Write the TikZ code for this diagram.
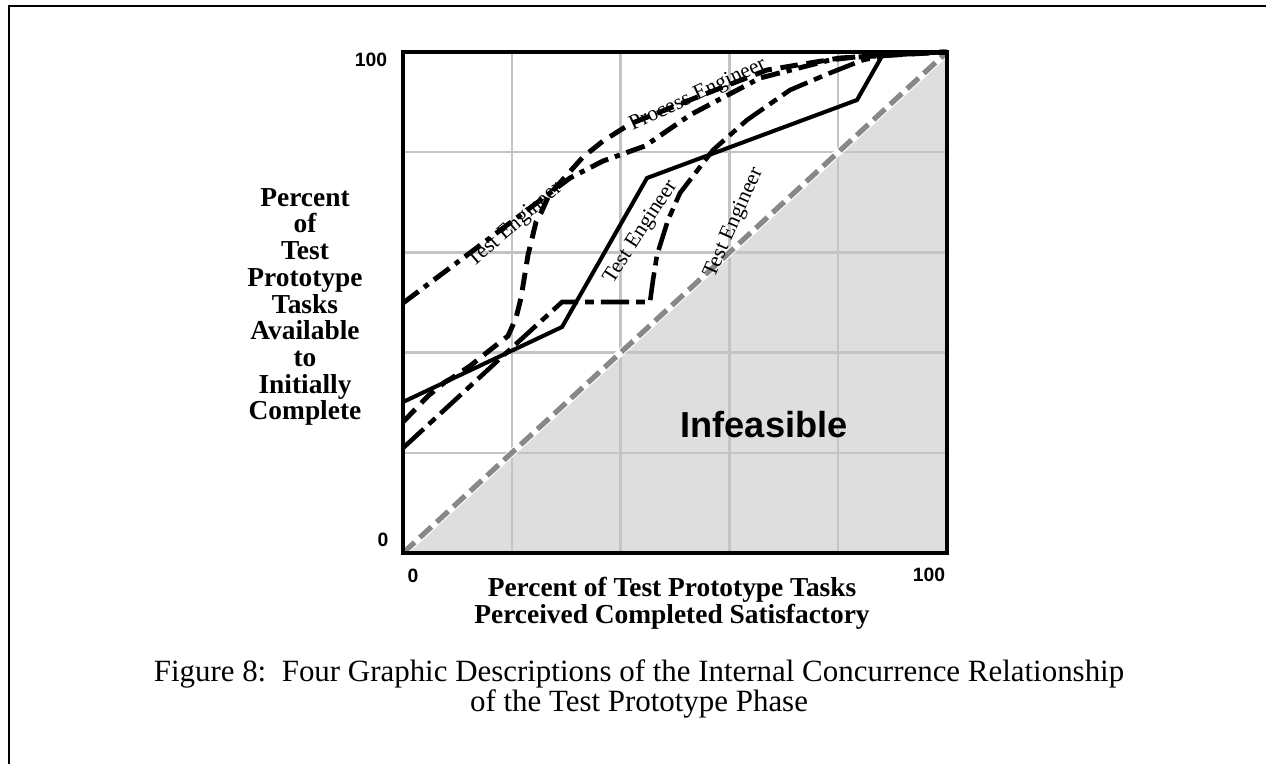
\documentclass[tikz,border=0pt]{standalone}
\usepackage{fontspec}
\setmainfont{Liberation Serif}
\setsansfont{Liberation Sans}
\definecolor{feasgray}{HTML}{DEDEDE}
\definecolor{gridgray}{HTML}{C4C4C4}
\definecolor{diaggray}{HTML}{888888}
\begin{document}
\begin{tikzpicture}[x=0.02cm,y=-0.02cm,
  gridline/.style={draw=gridgray, line width=1.4pt},
  plotframe/.style={draw=black, line width=2.8pt},
  curvedashdot/.style={draw=black, line width=2.8pt, dash pattern=on 11pt off 4pt on 3pt off 4pt},
  curvedashed/.style={draw=black, line width=2.8pt, dash pattern=on 10pt off 5pt},
  curvelongdot/.style={draw=black, line width=2.6pt, dash pattern=on 16pt off 4pt on 5pt off 4pt},
  curvesolid/.style={draw=black, line width=2.3pt, line join=miter},
  ticklbl/.style={font=\sffamily\bfseries\fontsize{11}{11}\selectfont, inner sep=0pt},
  axtitle/.style={font=\bfseries\fontsize{15.6}{15.2}\selectfont, align=center, inner sep=0pt},
  curvelbl/.style={font=\fontsize{12.2}{12.2}\selectfont, inner sep=0pt}]
\useasboundingbox (0,0) rectangle (1266,764);
% outer page frame
\coordinate (ofb) at (9,764);
\coordinate (oftl) at (9,6);
\coordinate (oftr) at (1266,6);
\draw[line width=1.7pt] (ofb) -- (oftl) -- (oftr);
% plot corners
\coordinate (o) at (403,553);
\coordinate (tr) at (947,52);
\coordinate (br) at (947,553);
\coordinate (tl) at (403,52);
% infeasible region
\fill[feasgray] (o) -- (tr) -- (br) -- cycle;
% grid
\foreach \gx in {511.8,620.6,729.4,838.2} \draw[gridline] (\gx,52) -- (\gx,553);
\foreach \gy in {152.2,252.4,352.6,452.8} \draw[gridline] (403,\gy) -- (947,\gy);
% diagonal boundary
\draw[white, line width=4.2pt] (o) -- (tr);
\draw[diaggray, line width=3pt, dash pattern=on 9pt off 4pt] (o) -- (tr);
% curve A (dash-dot, upper Test Engineer)
\draw[curvedashdot] (403,303) -- (570,178) -- (603,161) -- (645,146) -- (690,115) -- (760,78) -- (830,60) -- (880,54) -- (947,52);
% curve B (dashed, Process Engineer)
\draw[curvedashed] (403,422) -- (428,396) -- (445,382) -- (452,378) -- (470,366) -- (490,350) -- (508,336) -- (516,318) -- (521,298) -- (528,255) -- (536,222) -- (541,213) -- (549,195) -- (566,176) -- (583,157) -- (603,141) -- (630,124) -- (700,96) -- (767,70) -- (840,58) -- (947,52);
% curve C (long dash-dot, step)
\draw[curvelongdot] (403,448) -- (505,354) -- (562,302) -- (650,302) -- (653,280) -- (657,255) -- (668,220) -- (680,193) -- (713,150) -- (747,120) -- (790,90) -- (830,73) -- (863,60) -- (893,54) -- (947,52);
% curve D (solid)
\draw[curvesolid] (403,402) -- (562,327) -- (647,178) -- (857,100) -- (882,56) -- (947,52);
% plot frame
\draw[plotframe] (tl) rectangle (br);
% curve labels
\node[curvelbl, rotate=41] (lblA) at (515,225) {Test Engineer};
\node[curvelbl, rotate=57] (lblC) at (641,232) {Test Engineer};
\node[curvelbl, rotate=66] (lblE) at (734,223) {Test Engineer};
\node[curvelbl, rotate=25] (lblB) at (698,95) {Process Engineer};
% infeasible
\node[font=\sffamily\bfseries\fontsize{20.6}{20.6}\selectfont, inner sep=0pt] (inf) at (764,425) {Infeasible};
% tick labels
\node[ticklbl] (y100) at (371,60) {100};
\node[ticklbl] (y0) at (383,540) {0};
\node[ticklbl] (x0) at (413,576) {0};
\node[ticklbl] (x100) at (929,575) {100};
% axis titles
\node[axtitle] (ytitle) at (305,307) {Percent\\of\\Test\\Prototype\\Tasks\\Available\\to\\Initially\\Complete};
\node[axtitle] (xtitle) at (672,603) {Percent of Test Prototype Tasks\\Perceived Completed Satisfactory};
% caption
\node[font=\fontsize{17.6}{14}\selectfont, align=center, inner sep=0pt] (cap) at (639,689) {Figure 8:\ \ Four Graphic Descriptions of the Internal Concurrence Relationship\\of the Test Prototype Phase};
\end{tikzpicture}
\end{document}
